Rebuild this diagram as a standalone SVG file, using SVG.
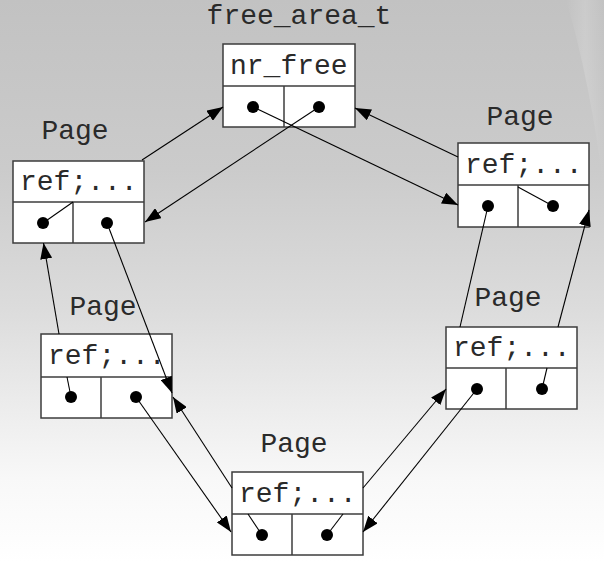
<svg xmlns="http://www.w3.org/2000/svg" width="604" height="563" viewBox="0 0 604 563">
<defs>
<linearGradient id="bg" x1="0" y1="0" x2="0" y2="1">
<stop offset="0" stop-color="#c2c2c2"/>
<stop offset="0.3" stop-color="#cbcbcb"/>
<stop offset="0.55" stop-color="#dcdcdc"/>
<stop offset="0.72" stop-color="#ececec"/>
<stop offset="0.85" stop-color="#f8f8f8"/>
<stop offset="1" stop-color="#ffffff"/>
</linearGradient>
<linearGradient id="hl" x1="0" y1="0" x2="1" y2="0">
<stop offset="0" stop-color="#ffffff" stop-opacity="0"/>
<stop offset="0.5" stop-color="#ffffff" stop-opacity="0.15"/>
<stop offset="1" stop-color="#ffffff" stop-opacity="0"/>
</linearGradient>
<marker id="ah" markerUnits="userSpaceOnUse" markerWidth="16" markerHeight="12" refX="16" refY="6" orient="auto">
<path d="M0,0 L16,6 L0,12 z" fill="#000"/>
</marker>
</defs>
<style>
.box{fill:#fff;stroke:#3c3c3c;stroke-width:1.5}
.div{stroke:#3c3c3c;stroke-width:1.5;fill:none}
.dot{fill:#000}
.lbl{font-family:"Liberation Mono","Courier New",monospace;font-size:28px;fill:#2a2a2a}
.con line{stroke:#000;stroke-width:1.1;fill:none}
.arr{marker-end:url(#ah)}
</style>
<rect width="604" height="563" fill="url(#bg)"/>
<path d="M566,0 Q590,80 604,190 L604,0 z" fill="url(#hl)"/>

<g id="free_area_t">
<text class="lbl" x="299" y="24" text-anchor="middle">free_area_t</text>
<rect class="box" x="223" y="44" width="132" height="83"/>
<line class="div" x1="223" y1="86" x2="355" y2="86"/>
<line class="div" x1="284" y1="86" x2="284" y2="127"/>
<text class="lbl" x="230" y="74">nr_free</text>
<circle class="dot" cx="253" cy="107" r="6"/>
<circle class="dot" cx="319" cy="107" r="6"/>
</g>

<g id="page1">
<text class="lbl" x="75" y="139" text-anchor="middle">Page</text>
<rect class="box" x="13" y="161" width="131" height="82"/>
<line class="div" x1="13" y1="202" x2="144" y2="202"/>
<line class="div" x1="73" y1="202" x2="73" y2="243"/>
<text class="lbl" x="20" y="190">ref;...</text>
<circle class="dot" cx="43" cy="223" r="6"/>
<circle class="dot" cx="107" cy="223" r="6"/>
</g>

<g id="page2">
<text class="lbl" x="520" y="125" text-anchor="middle">Page</text>
<rect class="box" x="458" y="143" width="131" height="84"/>
<line class="div" x1="458" y1="185" x2="589" y2="185"/>
<line class="div" x1="518" y1="185" x2="518" y2="227"/>
<text class="lbl" x="465" y="173">ref;...</text>
<circle class="dot" cx="488" cy="206" r="6"/>
<circle class="dot" cx="553" cy="206" r="6"/>
</g>

<g id="page3">
<text class="lbl" x="103" y="315" text-anchor="middle">Page</text>
<rect class="box" x="41" y="334" width="131" height="84"/>
<line class="div" x1="41" y1="377" x2="172" y2="377"/>
<line class="div" x1="101" y1="377" x2="101" y2="418"/>
<text class="lbl" x="48" y="364">ref;...</text>
<circle class="dot" cx="71" cy="397" r="6"/>
<circle class="dot" cx="136" cy="397" r="6"/>
</g>

<g id="page4">
<text class="lbl" x="508" y="306" text-anchor="middle">Page</text>
<rect class="box" x="446" y="327" width="131" height="82"/>
<line class="div" x1="446" y1="368" x2="577" y2="368"/>
<line class="div" x1="506" y1="368" x2="506" y2="409"/>
<text class="lbl" x="453" y="356">ref;...</text>
<circle class="dot" cx="477" cy="389" r="6"/>
<circle class="dot" cx="542" cy="389" r="6"/>
</g>

<g id="page5">
<text class="lbl" x="294" y="452" text-anchor="middle">Page</text>
<rect class="box" x="232" y="472" width="131" height="83"/>
<line class="div" x1="232" y1="514" x2="363" y2="514"/>
<line class="div" x1="292" y1="514" x2="292" y2="555"/>
<text class="lbl" x="239" y="502">ref;...</text>
<circle class="dot" cx="262" cy="535" r="6"/>
<circle class="dot" cx="327" cy="535" r="6"/>
</g>

<g id="connectors" class="con">
<line class="arr" x1="142" y1="160" x2="223" y2="107"/>
<line class="arr" x1="319" y1="107" x2="145" y2="222"/>
<line class="arr" x1="253" y1="107" x2="458" y2="205"/>
<line class="arr" x1="458" y1="157" x2="355" y2="108"/>
<line x1="43" y1="223" x2="73" y2="202"/>
<line class="arr" x1="107" y1="223" x2="172" y2="393"/>
<line class="arr" x1="59" y1="334" x2="43.5" y2="243"/>
<line x1="71" y1="397" x2="67" y2="377"/>
<line class="arr" x1="136" y1="397" x2="231" y2="532"/>
<line class="arr" x1="232" y1="488" x2="173" y2="397"/>
<line x1="262" y1="535" x2="248" y2="514"/>
<line x1="327" y1="535" x2="343" y2="514"/>
<line class="arr" x1="363" y1="488" x2="446" y2="389"/>
<line class="arr" x1="477" y1="389" x2="363" y2="532"/>
<line x1="460" y1="327" x2="488" y2="206"/>
<line class="arr" x1="558" y1="327" x2="589" y2="210"/>
<line x1="553" y1="206" x2="518" y2="187"/>
<line x1="542" y1="389" x2="547" y2="368"/>
</g>
</svg>
